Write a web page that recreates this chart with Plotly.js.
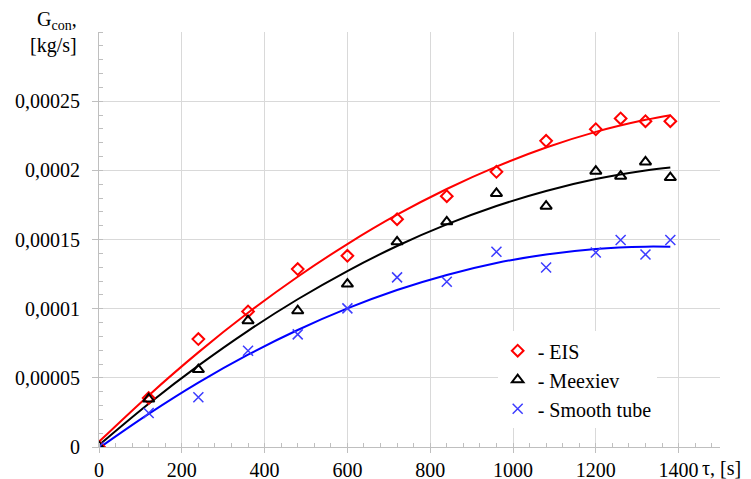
<!DOCTYPE html>
<html>
<head>
<meta charset="utf-8">
<script src="https://cdn.plot.ly/plotly-3.0.1.min.js"></script>
<style>html,body{margin:0;padding:0;background:#fff;}#chart{width:751px;height:479px;}</style>
</head>
<body>
<div id="chart"></div>
<script>
// measured time points, s
var tau = [0, 120, 240, 360, 480, 600, 720, 840, 960, 1080, 1200, 1260, 1320, 1380];
// measured condensate flow, kg/s
var eisPts = [0, 0.0000354, 0.0000780, 0.0000980, 0.0001286, 0.0001382, 0.0001647, 0.0001813, 0.0001989, 0.0002213, 0.0002297, 0.0002375, 0.0002355, 0.0002355];
var meexPts = [0, 0.0000347, 0.0000560, 0.0000913, 0.0000985, 0.0001178, 0.0001483, 0.0001628, 0.0001833, 0.0001741, 0.0001994, 0.0001958, 0.0002061, 0.0001948];
var smoothPts = [0, 0.0000246, 0.0000360, 0.0000696, 0.0000814, 0.0001002, 0.0001226, 0.0001195, 0.0001411, 0.0001298, 0.0001406, 0.0001496, 0.0001392, 0.0001496];

// trend lines
var tauLine = [0, 120, 240, 360, 480, 600, 720, 840, 960, 1080, 1200, 1320, 1380];
var eisLine = [0.0000038, 0.0000373, 0.0000684, 0.0000970, 0.0001231, 0.0001467, 0.0001679, 0.0001865, 0.0002027, 0.0002165, 0.0002278, 0.0002365, 0.0002399];
var meexLine = [0.0000014, 0.0000313, 0.0000588, 0.0000840, 0.0001068, 0.0001272, 0.0001453, 0.0001609, 0.0001742, 0.0001851, 0.0001937, 0.0001999, 0.0002021];
var smoothLine = [-0.0000008, 0.0000239, 0.0000465, 0.0000667, 0.0000846, 0.0001002, 0.0001135, 0.0001244, 0.0001330, 0.0001392, 0.0001432, 0.0001448, 0.0001447];

var seriesNames = ['- EIS', '- Meexiev', '- Smooth tube'];

var xTickVals = [0, 200, 400, 600, 800, 1000, 1200, 1400];
var xTickText = ['0', '200', '400', '600', '800', '1000', '1200', '1400'];
var yTickVals = [0, 0.00005, 0.0001, 0.00015, 0.0002, 0.00025];
var yTickText = ['0', '0,00005', '0,0001', '0,00015', '0,0002', '0,00025'];

var FONT = 'Liberation Serif';

var traces = [
  {x: tauLine, y: eisLine, mode: 'lines', line: {color: '#ff0000', width: 2, shape: 'spline'}, showlegend: false, hoverinfo: 'skip'},
  {x: tauLine, y: meexLine, mode: 'lines', line: {color: '#000000', width: 2, shape: 'spline'}, showlegend: false, hoverinfo: 'skip'},
  {x: tauLine, y: smoothLine, mode: 'lines', line: {color: '#0000ff', width: 2, shape: 'spline'}, showlegend: false, hoverinfo: 'skip'},
  {x: tau, y: eisPts, name: seriesNames[0], mode: 'markers', legendgroup: 'a',
   marker: {symbol: 'diamond-open', size: 9, color: '#ff0000', line: {width: 2, color: '#ff0000'}}},
  {x: tau, y: meexPts, name: seriesNames[1], mode: 'markers', legendgroup: 'b',
   marker: {symbol: 'triangle-up-open', size: 10, color: '#000000', line: {width: 2, color: '#000000'}}},
  {x: tau, y: smoothPts, name: seriesNames[2], mode: 'markers', legendgroup: 'c',
   marker: {symbol: 'x-thin-open', size: 10, color: '#3c3cff', line: {width: 1.5, color: '#3c3cff'}}}
];

var layout = {
  width: 751, height: 479,
  margin: {l: 99, r: 31, t: 32, b: 32},
  paper_bgcolor: '#ffffff', plot_bgcolor: '#ffffff',
  font: {family: FONT, size: 20, color: '#000000'},
  showlegend: true,
  legend: {x: 0.642, y: 0.279, xanchor: 'left', yanchor: 'top', bgcolor: '#ffffff',
           font: {family: FONT, size: 20, color: '#000000'}, traceorder: 'grouped', tracegroupgap: 0},
  xaxis: {range: [0, 1500], tickvals: xTickVals, ticktext: xTickText, showgrid: true, gridcolor: '#d9d9d9', gridwidth: 1,
          zeroline: false, showline: true, linecolor: '#bfbfbf', linewidth: 1,
          ticks: 'outside', ticklen: 5, tickcolor: '#bfbfbf',
          minor: {dtick: 40, ticks: 'inside', ticklen: 4, tickcolor: '#bfbfbf', showgrid: false},
          tickfont: {family: FONT, size: 20, color: '#000000'}, fixedrange: true},
  yaxis: {range: [0, 0.0003], tickvals: yTickVals, ticktext: yTickText, showgrid: true, gridcolor: '#d9d9d9', gridwidth: 1,
          zeroline: false, showline: true, linecolor: '#bfbfbf', linewidth: 1,
          ticks: 'outside', ticklen: 6, tickcolor: '#bfbfbf', ticklabelstandoff: 8,
          minor: {dtick: 0.00001, ticks: 'inside', ticklen: 4, tickcolor: '#bfbfbf', showgrid: false},
          tickfont: {family: FONT, size: 20, color: '#000000'}, fixedrange: true},
  annotations: [
    {text: 'G<sub>con</sub>,<br>[kg/s]', xref: 'paper', yref: 'paper', x: -0.032, y: 1.0, xanchor: 'right', yanchor: 'middle',
     showarrow: false, align: 'right', font: {family: FONT, size: 20}},
    {text: 'τ, [s]', xref: 'paper', yref: 'paper', x: 0.967, y: -0.05, xanchor: 'left', yanchor: 'middle',
     showarrow: false, font: {family: FONT, size: 20}}
  ]
};

Plotly.newPlot('chart', traces, layout, {displayModeBar: false, staticPlot: true});
</script>
</body>
</html>
